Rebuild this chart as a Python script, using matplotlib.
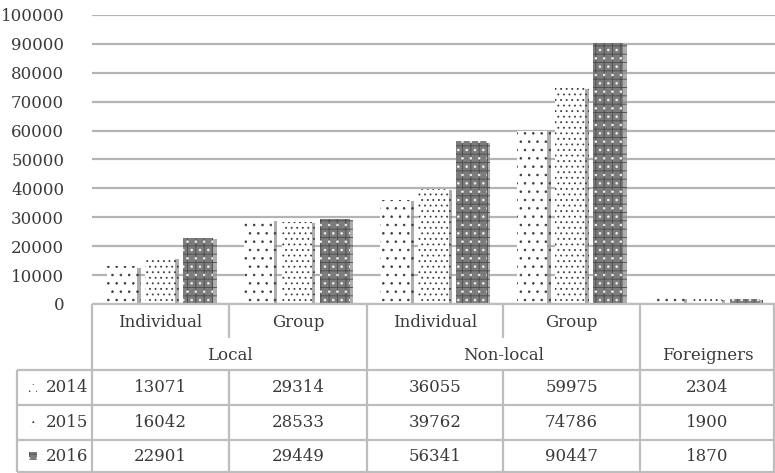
import numpy as np
import matplotlib.pyplot as plt
from matplotlib.patches import Rectangle
import matplotlib.patheffects as pe

groups = ['Local', 'Non-local', 'Foreigners']
subcats = ['Individual', 'Group', 'Individual', 'Group', '']
years = ['2014', '2015', '2016']
v2014 = [13071, 29314, 36055, 59975, 2304]
v2015 = [16042, 28533, 39762, 74786, 1900]
v2016 = [22901, 29449, 56341, 90447, 1870]
series = [v2014, v2015, v2016]

plt.rcParams['font.family'] = 'DejaVu Serif'
plt.rcParams['hatch.linewidth'] = 0.6
txt = '#3a3a3a'
gridc = '#b4b4b4'

W, H = 775, 473
fig = plt.figure(figsize=(W / 100, H / 100), dpi=100)

# styles: face, hatch, hatch colour, extra overlay hatch
styles = [('white', '..', '#3c3c3c', None),
          ('white', '...', '#3c3c3c', None),
          ('#7c7c7c', '++', '#4a4a4a', ('..', '#f0f0f0'))]

ax = fig.add_axes([92 / W, 1 - 304 / H, 1 - 92 / W, (304 - 15) / H])
x = np.arange(len(v2014))
bw = 0.22
offs = [-0.278, 0, 0.278]
shadow = [pe.SimplePatchShadow(offset=(2.5, -1), shadow_rgbFace='#8c8c8c', alpha=0.7), pe.Normal()]
for vals, (fc, hatch, hc, extra), off in zip(series, styles, offs):
    bars = ax.bar(x + off, vals, bw, color=fc, hatch=hatch, edgecolor=hc, linewidth=0, zorder=3)
    for b in bars:
        b.set_path_effects(shadow)
    if extra:
        ax.bar(x + off, vals, bw, color='none', hatch=extra[0], edgecolor=extra[1],
               linewidth=0, zorder=4)

ax.set_xlim(-0.5, 4.5)
ax.set_ylim(0, 100000)
ax.set_yticks(np.arange(0, 100001, 10000))
ax.set_yticklabels([str(v) for v in range(0, 100001, 10000)])
ax.yaxis.grid(True, color=gridc, linewidth=1.6, zorder=0)
ax.set_axisbelow(True)
ax.tick_params(axis='y', length=0, pad=20, labelsize=12, labelcolor=txt)
ax.set_xticks([])
for s in ax.spines.values():
    s.set_visible(False)

# data table drawn in pixel coordinates
tb = fig.add_axes([0, 0, 1, 1])
tb.set_xlim(0, W)
tb.set_ylim(H, 0)
tb.axis('off')
tb.patch.set_alpha(0)

cols = [92, 229, 367, 503, 640, 775]
rows = [370, 405, 440, 472]
lc = '#bdbdbd'
lw = 1.6

def hline(y, x0, x1):
    tb.plot([x0, x1], [y, y], color=lc, lw=lw, solid_capstyle='butt')

def vline(x0, y0, y1):
    tb.plot([x0, x0], [y0, y1], color=lc, lw=lw, solid_capstyle='butt')

hline(304, 92, 775)
for r in rows:
    hline(r, 17, 775)
vline(92, 304, 472)
vline(17, 370, 472)
for c in [367, 640, 774]:
    vline(c, 304, 472)
for c in [229, 503]:
    vline(c, 304, 338)
    vline(c, 370, 472)

for i, s in enumerate(subcats):
    cx = (cols[i] + cols[i + 1]) / 2
    tb.text(cx, 322, s, ha='center', va='center', fontsize=12, color=txt)
gcent = [(cols[0] + cols[2]) / 2, (cols[2] + cols[4]) / 2, (cols[4] + cols[5]) / 2]
for g, cx in zip(groups, gcent):
    tb.text(cx, 355, g, ha='center', va='center', fontsize=12, color=txt)

for j, (yr, vals, (fc, hatch, hc, extra)) in enumerate(zip(years, series, styles)):
    cy = (rows[j] + rows[j + 1]) / 2
    tb.text(88, cy, yr, ha='right', va='center', fontsize=12, color=txt)
    tb.add_patch(Rectangle((29, cy - 4), 8, 8, facecolor=fc, hatch=hatch,
                           edgecolor=hc, linewidth=0))
    if extra:
        tb.add_patch(Rectangle((29, cy - 4), 8, 8, facecolor='none', hatch=extra[0],
                               edgecolor=extra[1], linewidth=0))
    for i, v in enumerate(vals):
        cx = (cols[i] + cols[i + 1]) / 2
        tb.text(cx, cy, str(v), ha='center', va='center', fontsize=12, color=txt)

fig.savefig('out.png', dpi=100)
